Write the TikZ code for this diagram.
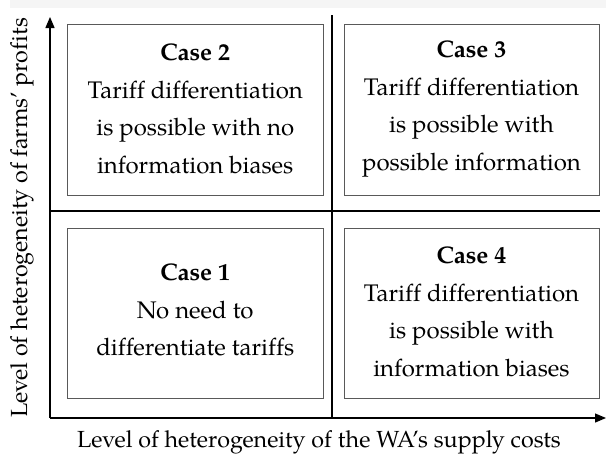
\documentclass[tikz,border=0pt]{standalone}
\usepackage{fontspec}
\setmainfont[Ligatures=NoCommon]{TeX Gyre Pagella}
\usetikzlibrary{arrows.meta}
\begin{document}
\begin{tikzpicture}[x=1pt,y=-1pt,
  casebox/.style={draw=black!65,line width=0.9pt},
  axis/.style={line width=1.3pt,-{Triangle[length=11pt,width=9pt]}},
  divider/.style={line width=1.3pt},
  casetext/.style={align=center,font=\fontsize{24}{37.5}\selectfont,inner sep=0pt},
  axislabel/.style={font=\fontsize{23.3}{26}\selectfont,inner sep=0pt}]
\useasboundingbox (0,0) rectangle (606,459);
\fill[black!4] (10,0) rectangle (606,8);
% boxes
\draw[casebox] (67.5,24) rectangle (323,195);
\draw[casebox] (344,24) rectangle (599,195);
\draw[casebox] (67.5,228) rectangle (323,398);
\draw[casebox] (344,228) rectangle (599,398);
% texts
\node[casetext] (c2) at (195.25,109) {\textbf{Case 2}\\Tariff differentiation\\is possible with no\\information biases};
\node[casetext] (c3) at (471.5,109) {\textbf{Case 3}\\Tariff differentiation\\is possible with\\possible information};
\node[casetext] (c1) at (195.25,310) {\textbf{Case 1}\\No need to\\differentiate tariffs};
\node[casetext] (c4) at (471.5,312) {\textbf{Case 4}\\Tariff differentiation\\is possible with\\information biases};
% axes
\coordinate (o) at (50,418);
\coordinate (ytip) at (50,17);
\coordinate (xtip) at (606,418);
\draw[axis] (o) -- (ytip);
\draw[axis] (o) -- (xtip);
\coordinate (hl) at (50,211);
\coordinate (hr) at (600,211);
\coordinate (vt) at (332,15);
\coordinate (vb) at (332,418);
\draw[divider] (hl) -- (hr);
\draw[divider] (vt) -- (vb);
\node[axislabel,rotate=90] (ylab) at (22,218) {Level of heterogeneity of farms’ profits};
\node[axislabel] (xlab) at (319,442) {Level of heterogeneity of the WA’s supply costs};
\end{tikzpicture}
\end{document}
